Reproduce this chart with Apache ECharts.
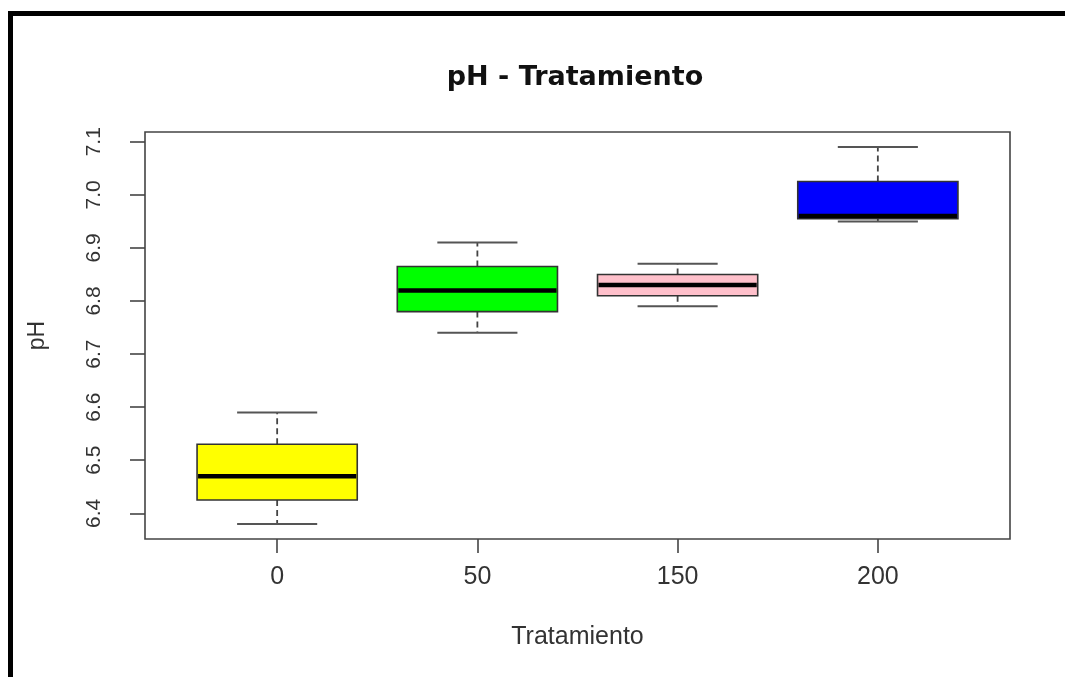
<!DOCTYPE html>
<html>
<head>
<meta charset="utf-8">
<script src="https://cdn.jsdelivr.net/npm/echarts@6/dist/echarts.min.js"></script>
<style>
html,body{margin:0;padding:0;background:#fff;}
#main{width:1065px;height:677px;}
</style>
</head>
<body>
<div id="main"></div>
<script>
// ---- data ----
var categories = ['0', '50', '150', '200'];
var whiskerLow = [6.38, 6.74, 6.79, 6.95];
var q1 = [6.425, 6.78, 6.81, 6.955];
var median = [6.47, 6.82, 6.83, 6.96];
var q3 = [6.53, 6.865, 6.85, 7.025];
var whiskerHigh = [6.59, 6.91, 6.87, 7.09];
var boxColors = ['#FFFF00', '#00FF00', '#FFC0CB', '#0000FF'];
var yTicks = [6.4, 6.5, 6.6, 6.7, 6.8, 6.9, 7.0, 7.1];
var titleText = 'pH - Tratamiento';
var xName = 'Tratamiento';
var yName = 'pH';

// ---- scales as R computes them (4% extension) ----
var lo = Math.min.apply(null, whiskerLow), hi = Math.max.apply(null, whiskerHigh);
var ext = (hi - lo) * 0.04;
var yMin = lo - ext, yMax = hi + ext;
var n = categories.length;
var xMin = 0.5 - n * 0.04, xMax = n + 0.5 + n * 0.04;
var xPos = categories.map(function (c, i) { return i + 1; });

var boxData = categories.map(function (c, i) {
  return [xPos[i], whiskerLow[i], q1[i], median[i], q3[i], whiskerHigh[i], i];
});

function renderBox(params, api) {
  var x = api.value(0);
  var i = api.value(6);
  var pMin = api.coord([x, api.value(1)]);
  var pQ1 = api.coord([x, api.value(2)]);
  var pMed = api.coord([x, api.value(3)]);
  var pQ3 = api.coord([x, api.value(4)]);
  var pMax = api.coord([x, api.value(5)]);
  var bw = api.size([0.8, 0])[0];
  var cw = bw / 2;
  var cx = pMed[0];
  var wStyle = { stroke: '#444', lineWidth: 1.8, lineDash: [6, 4] };
  var cStyle = { stroke: '#555', lineWidth: 2 };
  return {
    type: 'group',
    children: [
      { type: 'line', shape: { x1: cx, y1: pQ3[1], x2: cx, y2: pMax[1] }, style: wStyle },
      { type: 'line', shape: { x1: cx, y1: pQ1[1], x2: cx, y2: pMin[1] }, style: wStyle },
      { type: 'line', shape: { x1: cx - cw / 2, y1: pMax[1], x2: cx + cw / 2, y2: pMax[1] }, style: cStyle },
      { type: 'line', shape: { x1: cx - cw / 2, y1: pMin[1], x2: cx + cw / 2, y2: pMin[1] }, style: cStyle },
      { type: 'rect', shape: { x: cx - bw / 2, y: pQ3[1], width: bw, height: pQ1[1] - pQ3[1] },
        style: { fill: boxColors[i], stroke: '#333', lineWidth: 1.6 } },
      { type: 'line', shape: { x1: cx - bw / 2 + 1, y1: pMed[1], x2: cx + bw / 2 - 1, y2: pMed[1] },
        style: { stroke: '#000', lineWidth: 4.5 } }
    ]
  };
}

var chart = echarts.init(document.getElementById('main'), null, { renderer: 'canvas' });
chart.setOption({
  backgroundColor: '#fff',
  animation: false,
  title: {
    text: titleText,
    left: 570, top: 59, textAlign: 'center',
    textStyle: { fontFamily: 'DejaVu Sans', fontWeight: 'bold', fontSize: 27, color: '#111' }
  },
  graphic: [{
    type: 'rect', left: 8, top: 11, silent: true,
    shape: { width: 1100, height: 720 },
    style: { fill: 'none', stroke: '#000', lineWidth: 5 }
  }],
  grid: {
    left: 145, right: 55, top: 132, bottom: 138,
    show: true, borderColor: '#444', borderWidth: 1.6, backgroundColor: 'transparent'
  },
  xAxis: {
    type: 'value', min: xMin, max: xMax,
    name: xName, nameLocation: 'middle', nameGap: 86,
    nameTextStyle: { fontFamily: 'Liberation Sans', fontSize: 25, color: '#333' },
    axisLine: { show: false },
    splitLine: { show: false },
    axisTick: { show: true, length: 14, lineStyle: { color: '#444', width: 1.6 }, customValues: xPos },
    axisLabel: {
      customValues: xPos, margin: 26,
      fontFamily: 'Liberation Sans', fontSize: 25, color: '#333',
      formatter: function (v) { return categories[Math.round(v) - 1]; }
    }
  },
  yAxis: {
    type: 'value', min: yMin, max: yMax,
    name: yName, nameLocation: 'middle', nameGap: 96, nameRotate: 90,
    nameTextStyle: { fontFamily: 'Liberation Sans', fontSize: 23, color: '#333' },
    axisLine: { show: false },
    splitLine: { show: false },
    axisTick: { show: true, length: 15, lineStyle: { color: '#444', width: 1.6 }, customValues: yTicks },
    axisLabel: {
      customValues: yTicks, rotate: 90, margin: 40,
      fontFamily: 'Liberation Sans', fontSize: 21, color: '#333',
      formatter: function (v) { return v.toFixed(1); }
    }
  },
  series: [{
    type: 'custom',
    renderItem: renderBox,
    encode: { x: 0, y: [1, 2, 3, 4, 5] },
    data: boxData,
    clip: false
  }]
});
</script>
</body>
</html>
